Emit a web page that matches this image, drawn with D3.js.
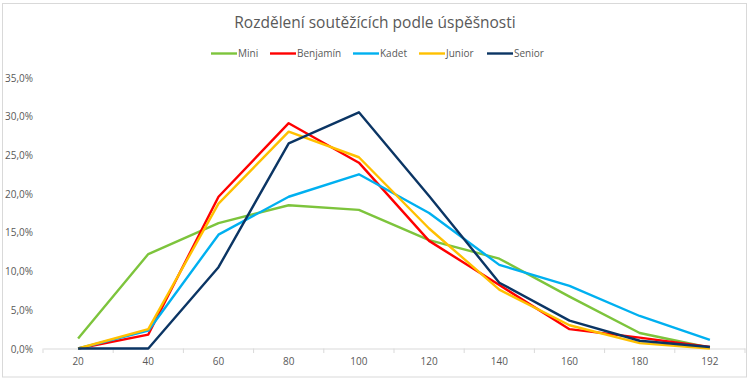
<!DOCTYPE html>
<html><head><meta charset="utf-8">
<script src="https://cdn.jsdelivr.net/npm/d3@7"></script>
<style>body{margin:0;background:#fff;}svg{display:block;font-family:"Open Sans","Liberation Sans",sans-serif;}</style>
</head><body><svg id="c" width="750" height="380"></svg>
<script>
const categories = ["20","40","60","80","100","120","140","160","180","192"];
const seriesNames = ["Mini","Benjamín","Kadet","Junior","Senior"];
const seriesColors = ["#7DC43C","#FF0000","#00B0F0","#FFC000","#0B3564"];
const mini     = [1.3, 12.2, 16.2, 18.5, 17.9, 14.0, 11.6, 6.7, 2.0, 0.1];
const benjamin = [0.0, 1.8, 19.6, 29.1, 24.0, 13.9, 8.2, 2.5, 1.4, 0.2];
const kadet    = [0.0, 2.3, 14.7, 19.6, 22.5, 17.5, 10.8, 8.1, 4.2, 1.1];
const junior   = [0.0, 2.5, 18.7, 28.0, 24.7, 15.5, 7.6, 3.0, 0.7, 0.0];
const senior   = [0.0, 0.0, 10.5, 26.5, 30.5, 19.7, 8.5, 3.6, 1.0, 0.2];
const yTicks = [0,5,10,15,20,25,30,35];
const title = "Rozdělení soutěžících podle úspěšnosti";

const allSeries = [mini, benjamin, kadet, junior, senior];
const svg = d3.select("#c");
svg.append("rect").attr("x",2.5).attr("y",3.5).attr("width",744).attr("height",373.5)
  .attr("fill","#fff").attr("stroke","#d9d9d9");

const x = d3.scaleBand().domain(categories).range([43,745]);
const y = d3.scaleLinear().domain([0,35]).range([348.5,77.5]);

svg.append("text").attr("x",375).attr("y",28).attr("text-anchor","middle")
  .attr("font-size",15.5).attr("fill","#595959").text(title);

// y axis labels
svg.append("g").selectAll("text").data(yTicks).join("text")
  .attr("x",33).attr("y",d=>y(d)+4).attr("text-anchor","end")
  .attr("font-size",10).attr("fill","#595959")
  .text(d=>d.toFixed(1).replace(".",",")+"%");

// x axis
const xa = svg.append("g").attr("transform","translate(0,348.5)")
  .call(d3.axisBottom(x).tickSize(0).tickPadding(9));
xa.select(".domain").attr("stroke","#d9d9d9");
xa.selectAll("text").attr("font-size",10).attr("fill","#595959").attr("font-family","'Open Sans','Liberation Sans',sans-serif");
const bounds = categories.map(c=>x(c)).concat([x.range()[1]]);
svg.append("g").selectAll("line").data(bounds).join("line")
  .attr("x1",d=>d).attr("x2",d=>d).attr("y1",348.5).attr("y2",353)
  .attr("stroke","#d9d9d9");

const line = d3.line().x((d,i)=>x(categories[i])+x.bandwidth()/2).y(d=>y(d));
allSeries.forEach((s,i)=>{
  svg.append("path").datum(s).attr("d",line).attr("fill","none")
    .attr("stroke",seriesColors[i]).attr("stroke-width",2.4).attr("stroke-linejoin","round");
});

// legend
const legX = [211,270,353,419,487];
const lg = svg.append("g");
seriesNames.forEach((n,i)=>{
  lg.append("line").attr("x1",legX[i]).attr("x2",legX[i]+26).attr("y1",53.5).attr("y2",53.5)
    .attr("stroke",seriesColors[i]).attr("stroke-width",2.4);
  lg.append("text").attr("x",legX[i]+27).attr("y",57).attr("font-size",10)
    .attr("fill","#595959").text(n);
});
</script></body></html>
